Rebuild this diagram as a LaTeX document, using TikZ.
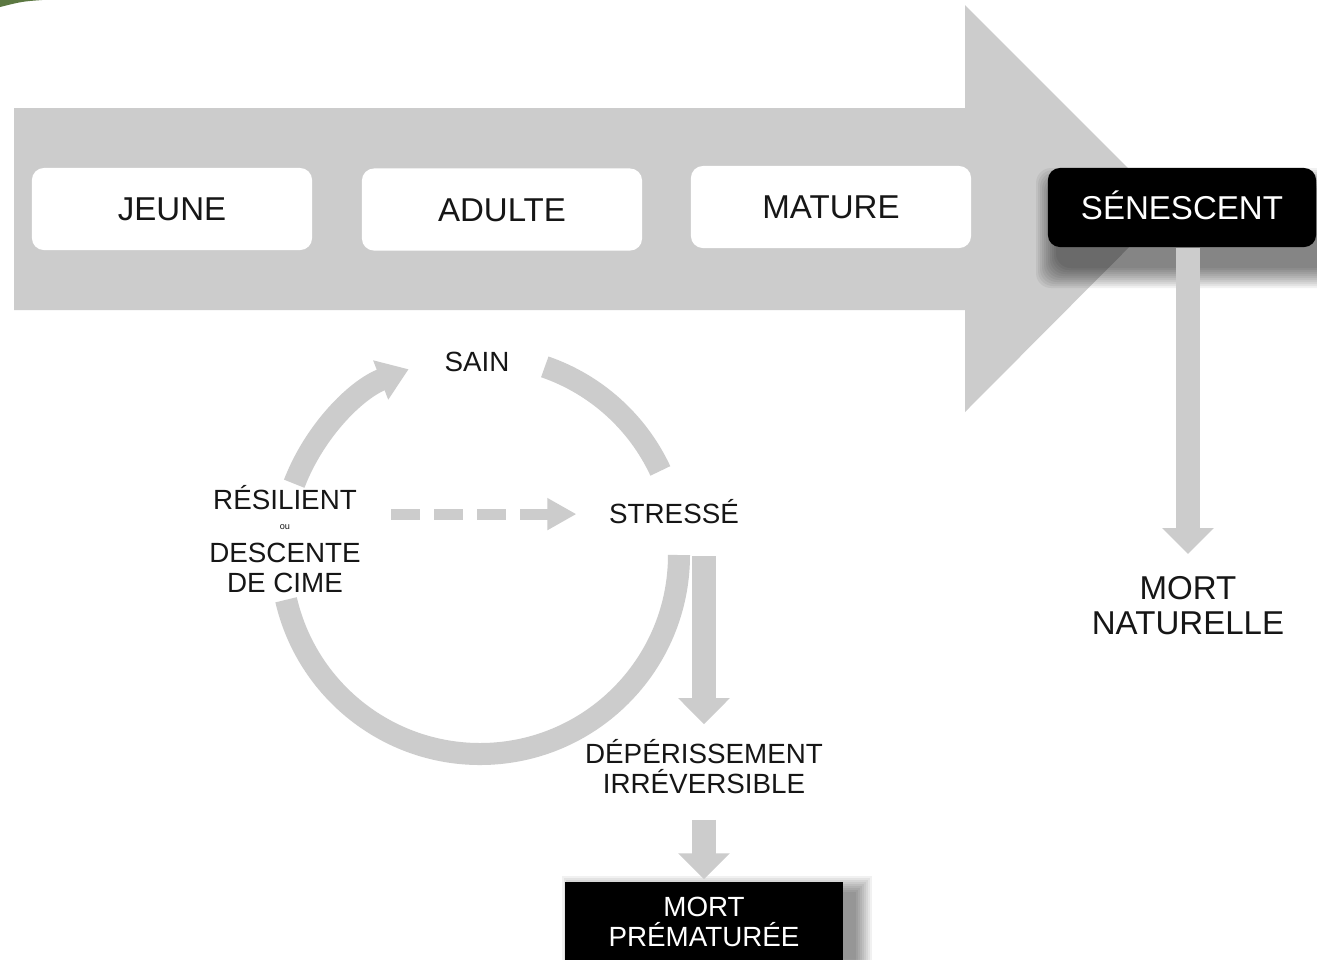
\documentclass[tikz,border=0pt]{standalone}
\usepackage{fontspec}
\setmainfont{Liberation Sans}
\usetikzlibrary{arrows.meta,calc}
\definecolor{arrowgray}{RGB}{204,204,204}
\definecolor{txt}{RGB}{22,22,22}
\definecolor{leafgreen}{RGB}{92,120,66}
\newcommand\LblBig{\fontsize{9.4}{10}\selectfont}
\newcommand\LblSmall{\fontsize{7.9}{8.5}\selectfont}
\begin{document}
\begin{tikzpicture}[x=0.01cm,y=-0.01cm,
  stage/.style={fill=white, rounded corners=1.2mm, minimum width=2.8cm, minimum height=0.82cm,
    font=\LblBig, text=txt, text height=6.7pt, text depth=0pt, inner sep=0pt},
  blackbox/.style={fill=black, text=white, inner sep=0pt, align=center},
  lbl/.style={text=txt, inner sep=0pt, align=center},
  ring/.style={draw=arrowgray, line width=0.22cm},
  varrow/.style={draw=arrowgray, line width=0.245cm, -{Triangle[length=0.26cm,width=0.5cm]}},
  dasharrow/.style={draw=arrowgray, line width=0.11cm, dash pattern=on 2.9mm off 1.4mm,
    -{Triangle[length=0.29cm,width=0.3cm]}},
  softshadow/.style={fill=black, fill opacity=0.055}
]
\useasboundingbox (0,0) rectangle (1317,959);
\clip (0,0) rectangle (1317,959);
\fill[white] (0,0) rectangle (1317,959);
% green corner
\fill[leafgreen] (0,0) -- (42,0) .. controls (22,1.5) .. (0,7) -- cycle;
% big timeline arrow
\fill[arrowgray] (14,108) -- (965,108) -- (965,5) -- (1168,208) -- (965,412) -- (965,310) -- (14,310) -- cycle;
% soft shadows of the black boxes
\foreach \g in {0,2,...,20}{
  \fill[softshadow, rounded corners=1.5mm] (1056-\g,188-\g) rectangle (1330+\g,268+\g);
}
\foreach \g in {0,2,...,16}{
  \fill[softshadow] (578-\g,892-\g) rectangle (856+\g,990+\g);
}
% stages
\node[stage] (jeune)  at (172,209) {JEUNE};
\node[stage] (adulte) at (502,209.5) {ADULTE};
\node[stage] (mature) at (831,207) {MATURE};
\node[blackbox, rounded corners=1.2mm, minimum width=2.68cm, minimum height=0.79cm,
  font=\LblBig, text height=6.7pt, text depth=0pt] (sen) at (1182,207.5) {SÉNESCENT};
% labels
\node[lbl, font=\LblBig] (mortnat) at (1188,606) {MORT\\NATURELLE};
\node[lbl, font=\LblSmall, anchor=base] (sain) at (477,371) {SAIN};
\node[lbl, font=\LblSmall, anchor=base] (stresse) at (674,523) {STRESSÉ};
\node[lbl, font=\fontsize{7.9}{8.3}\selectfont] (resil) at (285,539)
  {RÉSILIENT\\[-2.6pt]{\fontsize{2.6}{3}\selectfont ou}\\[1.1pt]DESCENTE\\DE CIME};
\node[lbl, font=\LblSmall] (deper) at (704,767) {DÉPÉRISSEMENT\\IRRÉVERSIBLE};
\node[blackbox, font=\LblSmall, minimum width=2.78cm, minimum height=0.8cm]
  (mortpre) at (704,922) {MORT\\PRÉMATURÉE};
% cycle
\coordinate (cc) at (480,555);
\draw[ring] ($(cc)+(-71:199)$) arc[start angle=-71, end angle=-25, radius=199];
\draw[ring] ($(cc)+(0:199)$) arc[start angle=0, end angle=167, radius=199];
\draw[ring, -{Triangle[length=0.3cm,width=0.4cm]}] ($(cc)+(-159:199)$) arc[start angle=-159, end angle=-111, radius=199];
% connectors
\draw[dasharrow] ($(resil.east |- stresse.west)+(30,3)$) -- ($(stresse.west)+(-32,3)$);
\draw[varrow, shorten >=0.22cm] (sen.south -| mortnat.north) -- (mortnat.north);
\draw[varrow, shorten <=0.32cm, shorten >=0.15cm] (stresse.south -| deper.north) -- (deper.north);
\draw[varrow, shorten <=0.25cm, shorten >=0.02cm] (deper.south) -- (mortpre.north);
\end{tikzpicture}
\end{document}
